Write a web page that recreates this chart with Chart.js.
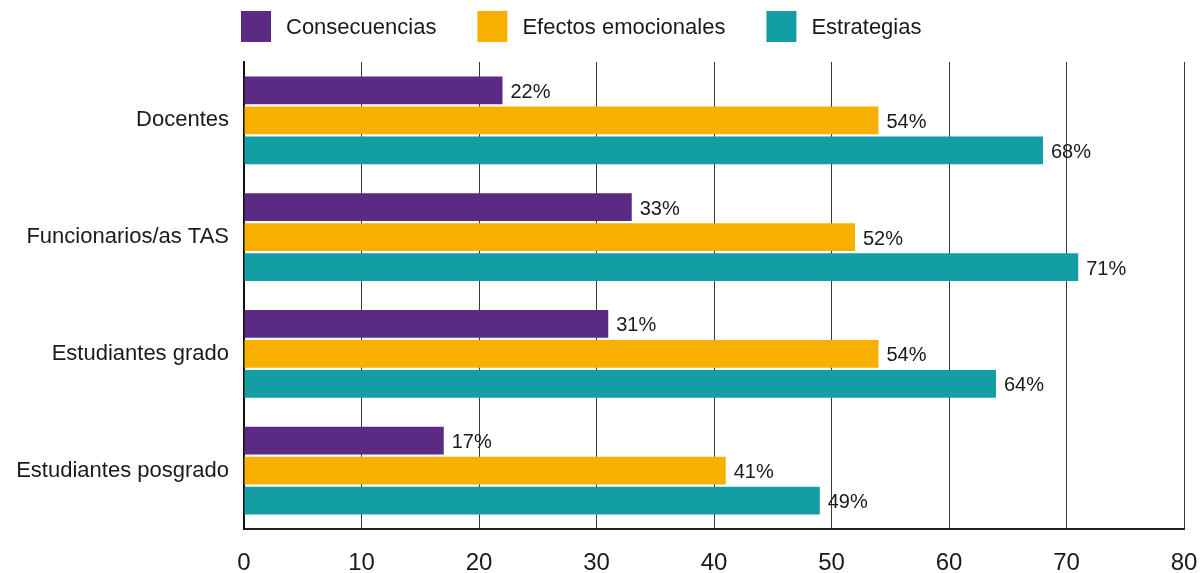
<!DOCTYPE html>
<html><head><meta charset="utf-8">
<script src="https://cdn.jsdelivr.net/npm/chart.js@4.4.1/dist/chart.umd.min.js"></script>
<style>html,body{margin:0;padding:0;background:#fff}#wrap{width:1204px;height:573px}</style>
</head><body><div id="wrap"><canvas id="c" width="1204" height="573"></canvas></div>
<script>
const categories = ["Docentes", "Funcionarios/as TAS", "Estudiantes grado", "Estudiantes posgrado"];
const seriesNames = ["Consecuencias", "Efectos emocionales", "Estrategias"];
const consecuencias = [22, 33, 31, 17];
const efectos = [54, 52, 54, 41];
const estrategias = [68, 71, 64, 49];
const xTickValues = [0, 10, 20, 30, 40, 50, 60, 70, 80];
const seriesColors = ["#5B2A82", "#F7B000", "#139DA4"];

const FAMILY = '"Liberation Sans", Arial, sans-serif';
const TEXT = '#1a1a1a';

const valueLabels = {
  id: 'valueLabels',
  afterDatasetsDraw(chart) {
    const ctx = chart.ctx;
    ctx.save();
    ctx.font = '20px ' + FAMILY;
    ctx.fillStyle = TEXT;
    ctx.textBaseline = 'middle';
    ctx.textAlign = 'left';
    chart.data.datasets.forEach((ds, i) => {
      const meta = chart.getDatasetMeta(i);
      meta.data.forEach((el, j) => {
        ctx.fillText(ds.data[j] + '%', el.x + 8, el.y + 2);
      });
    });
    ctx.restore();
  }
};

const topLegend = {
  id: 'topLegend',
  afterDraw(chart) {
    const ctx = chart.ctx;
    ctx.save();
    ctx.font = '22px ' + FAMILY;
    ctx.textBaseline = 'middle';
    ctx.textAlign = 'left';
    let x = 241;
    chart.data.datasets.forEach((ds) => {
      ctx.fillStyle = ds.backgroundColor;
      ctx.fillRect(x, 11, 30, 31);
      ctx.fillStyle = TEXT;
      ctx.fillText(ds.label, x + 45, 28);
      x += 45 + ctx.measureText(ds.label).width + 41;
    });
    ctx.restore();
  }
};

new Chart(document.getElementById('c'), {
  type: 'bar',
  data: {
    labels: categories,
    datasets: [
      { label: seriesNames[0], data: consecuencias, backgroundColor: seriesColors[0] },
      { label: seriesNames[1], data: efectos, backgroundColor: seriesColors[1] },
      { label: seriesNames[2], data: estrategias, backgroundColor: seriesColors[2] }
    ]
  },
  options: {
    indexAxis: 'y',
    responsive: false,
    animation: false,
    devicePixelRatio: 1,
    datasets: { bar: { barPercentage: 0.93, categoryPercentage: 0.77, borderWidth: 0 } },
    layout: { padding: { top: 62, left: 0, right: 20, bottom: 0 } },
    plugins: { legend: { display: false }, tooltip: { enabled: false } },
    scales: {
      x: {
        min: 0, max: 80,
        afterBuildTicks(scale) { scale.ticks = xTickValues.map(v => ({ value: v })); },
        ticks: { color: TEXT, font: { family: FAMILY, size: 24 }, padding: 20 },
        grid: { color: '#3a3a3a', lineWidth: 1, drawTicks: false },
        border: { color: '#222', width: 2 },
        afterFit(scale) { scale.height = 44; scale.paddingLeft = 0; scale.paddingRight = 0; }
      },
      y: {
        ticks: { color: TEXT, font: { family: FAMILY, size: 22 }, padding: 15 },
        grid: { display: false, drawTicks: false },
        border: { color: '#111', width: 2 },
        afterFit(scale) { scale.width = 244; }
      }
    }
  },
  plugins: [valueLabels, topLegend]
});
</script>
</body></html>
